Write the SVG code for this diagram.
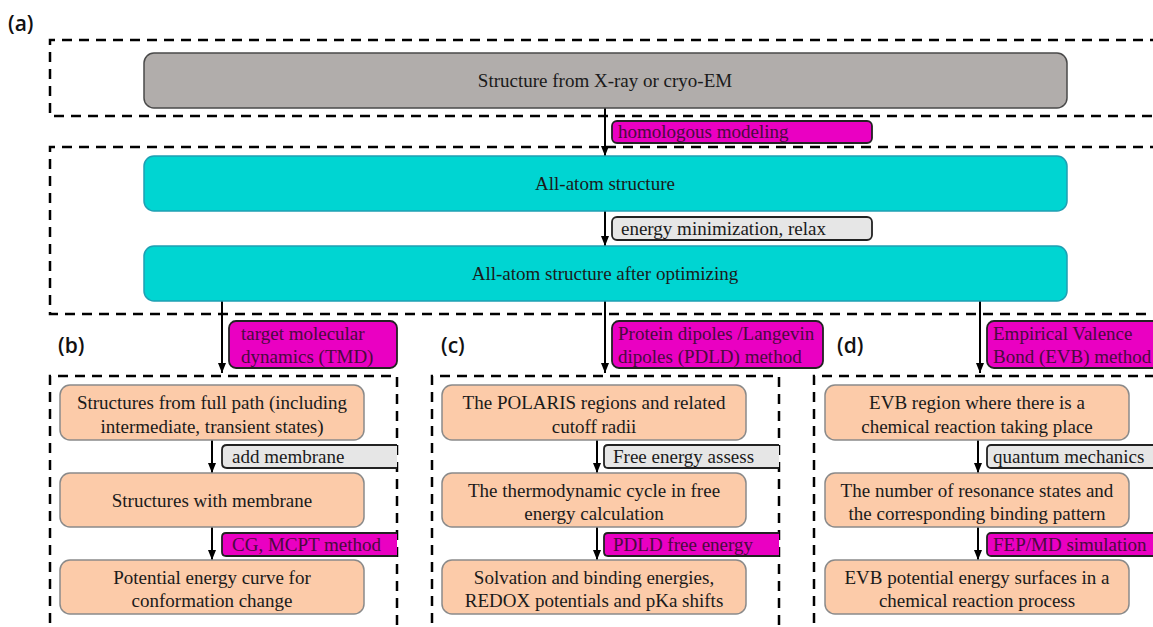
<svg xmlns="http://www.w3.org/2000/svg" width="1153" height="627" viewBox="0 0 1153 627">
<defs>
<marker id="ah" viewBox="0 0 10 8" refX="10" refY="4" markerWidth="10" markerHeight="8" markerUnits="userSpaceOnUse" orient="auto">
<path d="M0,0 L10,4 L0,8 Z" fill="#000"/>
</marker>
<style>
.dash{fill:none;stroke:#000;stroke-width:2.5;stroke-dasharray:10 7}
.gray{fill:#b1adab;stroke:#4a4a4a;stroke-width:1.5}
.cyan{fill:#00d5d2;stroke:#1f9fb3;stroke-width:1.5}
.peach{fill:#fccba9;stroke:#8a8a8a;stroke-width:1.5}
.mag{fill:#ea00c2;stroke:#222;stroke-width:1.8}
.lg{fill:#e6e6e6;stroke:#222;stroke-width:1.8}
.t{font-size:19px;fill:#1a1a1a}
.c{text-anchor:middle}
.tm{font-size:19px;fill:#4a0a3e}
.pl{font-family:'Open Sans','Liberation Sans',sans-serif;font-size:21px;font-weight:600;fill:#111}
.conn{stroke:#000;stroke-width:2;fill:none}
</style>
</defs>
<rect width="1153" height="627" fill="#fff"/>

<g id="panels">
<text class="pl" x="8" y="31">(a)</text>
<text class="pl" x="58" y="353">(b)</text>
<text class="pl" x="441" y="353">(c)</text>
<text class="pl" x="837" y="353">(d)</text>
<path class="dash" d="M1160,40 H50 V116 H1160"/>
<path class="dash" d="M1160,147 H50 V314 H1160"/>
<path class="dash" d="M50,640 V376 H397 V640"/>
<path class="dash" d="M432,640 V376 H779 V640"/>
<path class="dash" d="M814,640 V376 H1160"/>
</g>

<g id="connectors">
<line class="conn" x1="605" y1="108" x2="605" y2="156" marker-end="url(#ah)"/>
<line class="conn" x1="605" y1="211" x2="605" y2="246" marker-end="url(#ah)"/>
<line class="conn" x1="222" y1="301" x2="222" y2="373" marker-end="url(#ah)"/>
<line class="conn" x1="605" y1="301" x2="605" y2="373" marker-end="url(#ah)"/>
<line class="conn" x1="980" y1="301" x2="980" y2="373" marker-end="url(#ah)"/>
<line class="conn" x1="212" y1="440" x2="212" y2="473" marker-end="url(#ah)"/>
<line class="conn" x1="212" y1="527" x2="212" y2="560" marker-end="url(#ah)"/>
<line class="conn" x1="597" y1="440" x2="597" y2="473" marker-end="url(#ah)"/>
<line class="conn" x1="597" y1="527" x2="597" y2="560" marker-end="url(#ah)"/>
<line class="conn" x1="978" y1="440" x2="978" y2="473" marker-end="url(#ah)"/>
<line class="conn" x1="978" y1="527" x2="978" y2="560" marker-end="url(#ah)"/>
</g>

<g font-family="Liberation Serif, Times New Roman, DejaVu Serif, serif">
<g id="labels">
<g id="lbl-homologous"><rect class="mag" x="612" y="121" width="260" height="22" rx="5"/><text class="tm" x="618" y="138">homologous modeling</text></g>
<g id="lbl-energy"><rect class="lg" x="612" y="217" width="260" height="23" rx="5"/><text class="t" x="621" y="235">energy minimization, relax</text></g>
<g id="lbl-tmd"><rect class="mag" x="229" y="321" width="168" height="47" rx="7"/><text class="tm" x="241" y="340">target molecular</text><text class="tm" x="241" y="363">dynamics (TMD)</text></g>
<g id="lbl-pdld"><rect class="mag" x="612" y="321" width="211" height="47" rx="7"/><text class="tm" x="618" y="340">Protein dipoles /Langevin</text><text class="tm" x="618" y="363">dipoles (PDLD) method</text></g>
<g id="lbl-evb"><rect class="mag" x="987" y="321" width="190" height="47" rx="7"/><text class="tm" x="993" y="340">Empirical Valence</text><text class="tm" x="993" y="363">Bond (EVB) method</text></g>
<g id="lbl-membrane"><path class="lg" d="M397,445 H227 Q222,445 222,450 V463 Q222,468 227,468 H397"/><text class="t" x="232" y="463">add membrane</text></g>
<g id="lbl-cg"><path class="mag" d="M397,533 H226 Q222,533 222,537 V552 Q222,556 226,556 H397"/><text class="tm" x="232" y="551">CG, MCPT method</text></g>
<g id="lbl-free"><path class="lg" d="M779,445 H608 Q604,445 604,449 V464 Q604,468 608,468 H779"/><text class="t" x="613" y="463">Free energy assess</text></g>
<g id="lbl-pdldfe"><path class="mag" d="M779,533 H608 Q604,533 604,537 V552 Q604,556 608,556 H779"/><text class="tm" x="613" y="551">PDLD free energy</text></g>
<g id="lbl-qm"><rect class="lg" x="987" y="445" width="190" height="23" rx="4"/><text class="t" x="993" y="463">quantum mechanics</text></g>
<g id="lbl-fep"><rect class="mag" x="987" y="533" width="190" height="23" rx="4"/><text class="tm" x="993" y="551">FEP/MD simulation</text></g>
</g>

<g id="node-xray"><rect class="gray" x="144" y="53" width="923" height="55" rx="10"/><text class="t c" x="605" y="87">Structure from X-ray or cryo-EM</text></g>
<g id="node-allatom"><rect class="cyan" x="144" y="156" width="923" height="55" rx="10"/><text class="t c" x="605" y="190">All-atom structure</text></g>
<g id="node-optimized"><rect class="cyan" x="144" y="246" width="923" height="55" rx="10"/><text class="t c" x="605" y="280">All-atom structure after optimizing</text></g>

<g id="node-b1"><rect class="peach" x="60" y="385" width="304" height="55" rx="10"/><text class="t c" x="212" y="409">Structures from full path (including</text><text class="t c" x="212" y="433">intermediate, transient states)</text></g>
<g id="node-b2"><rect class="peach" x="60" y="473" width="304" height="54" rx="10"/><text class="t c" x="212" y="507">Structures with membrane</text></g>
<g id="node-b3"><rect class="peach" x="60" y="560" width="304" height="54" rx="10"/><text class="t c" x="212" y="584">Potential energy curve for</text><text class="t c" x="212" y="607">conformation change</text></g>

<g id="node-c1"><rect class="peach" x="442" y="385" width="304" height="55" rx="10"/><text class="t c" x="594" y="409">The POLARIS regions and related</text><text class="t c" x="594" y="433">cutoff radii</text></g>
<g id="node-c2"><rect class="peach" x="442" y="473" width="304" height="54" rx="10"/><text class="t c" x="594" y="497">The thermodynamic cycle in free</text><text class="t c" x="594" y="520">energy calculation</text></g>
<g id="node-c3"><rect class="peach" x="442" y="560" width="304" height="54" rx="10"/><text class="t c" x="594" y="584">Solvation and binding energies,</text><text class="t c" x="594" y="607">REDOX potentials and pKa shifts</text></g>

<g id="node-d1"><rect class="peach" x="825" y="385" width="304" height="55" rx="10"/><text class="t c" x="977" y="409">EVB region where there is a</text><text class="t c" x="977" y="433">chemical reaction taking place</text></g>
<g id="node-d2"><rect class="peach" x="825" y="473" width="304" height="54" rx="10"/><text class="t c" x="977" y="497">The number of resonance states and</text><text class="t c" x="977" y="520">the corresponding binding pattern</text></g>
<g id="node-d3"><rect class="peach" x="825" y="560" width="304" height="54" rx="10"/><text class="t c" x="977" y="584">EVB potential energy surfaces in a</text><text class="t c" x="977" y="607">chemical reaction process</text></g>
</g>
</svg>
